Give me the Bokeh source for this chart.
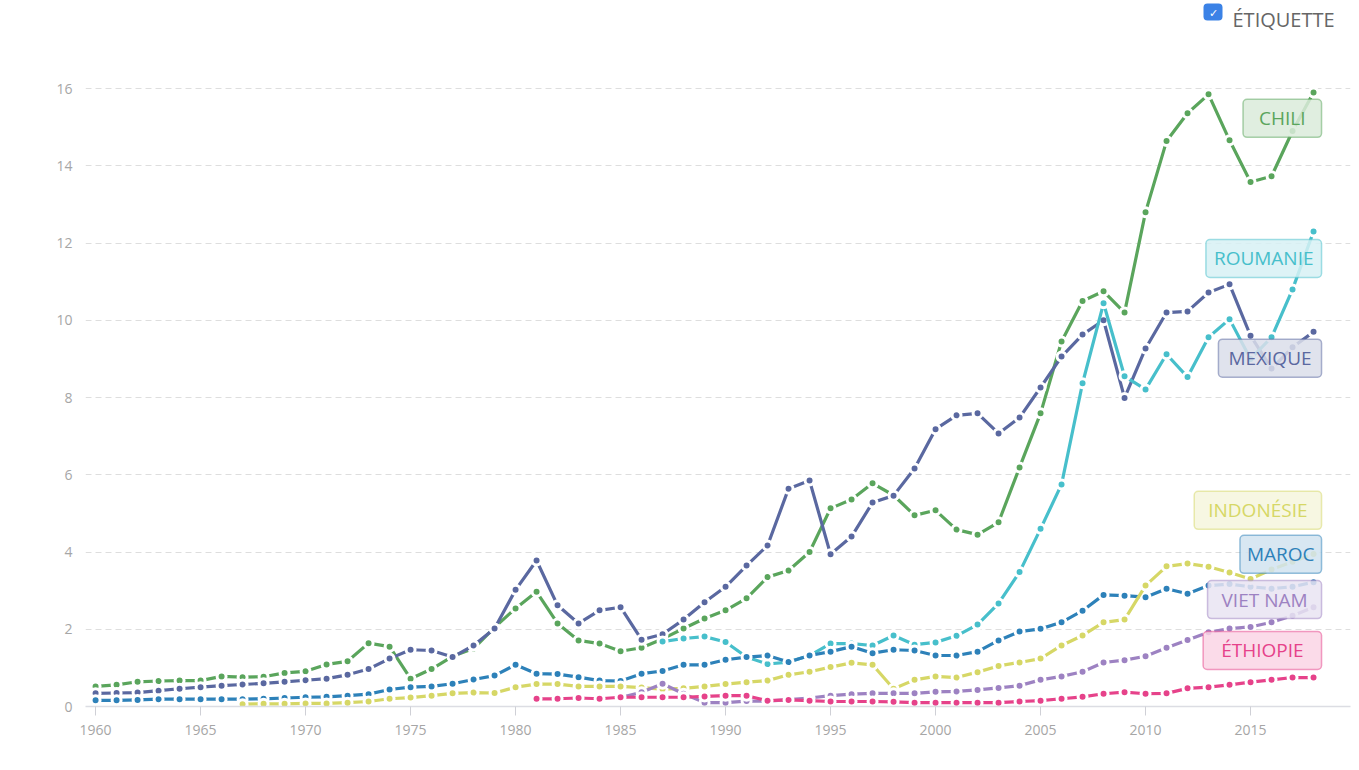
from bokeh.plotting import figure
from bokeh.models import Range1d, SingleIntervalTicker, FixedTicker, Label, ColumnDataSource
from bokeh.embed import file_html
from bokeh.resources import INLINE

FONT = "Open Sans"

# ---- data ----
countries = ["CHILI", "MEXIQUE", "ROUMANIE", "MAROC", "INDONÉSIE", "VIET NAM", "ÉTHIOPIE"]

chili_start = 1960
chili = [0.52, 0.56, 0.64, 0.66, 0.67, 0.67, 0.78, 0.76, 0.77, 0.87,
         0.91, 1.09, 1.17, 1.64, 1.55, 0.72, 0.97, 1.30, 1.50, 2.05,
         2.54, 2.97, 2.15, 1.71, 1.63, 1.43, 1.52, 1.75, 2.02, 2.28,
         2.49, 2.80, 3.35, 3.52, 4.00, 5.13, 5.36, 5.78, 5.47, 4.95,
         5.08, 4.58, 4.45, 4.77, 6.19, 7.59, 9.45, 10.50, 10.75, 10.20,
         12.80, 14.64, 15.36, 15.85, 14.66, 13.58, 13.73, 14.90, 15.90]

mexique_start = 1960
mexique = [0.34, 0.35, 0.36, 0.41, 0.46, 0.50, 0.54, 0.57, 0.60, 0.64,
           0.68, 0.72, 0.82, 0.97, 1.24, 1.47, 1.45, 1.28, 1.58, 2.02,
           3.02, 3.78, 2.62, 2.15, 2.49, 2.57, 1.73, 1.87, 2.25, 2.70,
           3.10, 3.65, 4.17, 5.64, 5.85, 3.94, 4.40, 5.28, 5.46, 6.16,
           7.18, 7.54, 7.59, 7.07, 7.48, 8.26, 9.06, 9.63, 10.00, 7.99,
           9.27, 10.20, 10.23, 10.72, 10.93, 9.60, 8.75, 9.30, 9.70]

roumanie_start = 1987
roumanie = [1.68, 1.76, 1.81,
            1.67, 1.28, 1.10, 1.15, 1.32, 1.63, 1.63, 1.58, 1.84, 1.60,
            1.66, 1.83, 2.12, 2.67, 3.48, 4.60, 5.75, 8.37, 10.44, 8.55,
            8.21, 9.12, 8.53, 9.56, 10.03, 9.00, 9.56, 10.80, 12.30]

maroc_start = 1960
maroc = [0.16, 0.16, 0.17, 0.19, 0.19, 0.19, 0.19, 0.19, 0.20, 0.22,
         0.24, 0.25, 0.28, 0.32, 0.44, 0.50, 0.52, 0.59, 0.70, 0.80,
         1.08, 0.85, 0.84, 0.76, 0.67, 0.66, 0.85, 0.92, 1.08, 1.08,
         1.21, 1.28, 1.32, 1.15, 1.32, 1.42, 1.55, 1.38, 1.47, 1.45,
         1.32, 1.32, 1.42, 1.71, 1.94, 2.01, 2.18, 2.48, 2.89, 2.87,
         2.83, 3.05, 2.92, 3.13, 3.17, 3.10, 3.05, 3.10, 3.22]

indonesie_start = 1967
indonesie = [0.06, 0.07, 0.07,
             0.08, 0.08, 0.10, 0.13, 0.20, 0.23, 0.28, 0.34, 0.36, 0.35,
             0.50, 0.58, 0.58, 0.52, 0.52, 0.52, 0.49, 0.45, 0.47, 0.52,
             0.58, 0.63, 0.67, 0.82, 0.90, 1.02, 1.13, 1.08, 0.46, 0.69,
             0.78, 0.75, 0.89, 1.05, 1.14, 1.24, 1.58, 1.84, 2.18, 2.25,
             3.13, 3.63, 3.70, 3.62, 3.47, 3.30, 3.55, 3.75, 3.95]

vietnam_start = 1985
vietnam = [0.23, 0.37, 0.59, 0.33, 0.10,
           0.10, 0.14, 0.14, 0.18, 0.22, 0.28, 0.32, 0.34, 0.34, 0.34,
           0.38, 0.39, 0.43, 0.48, 0.54, 0.69, 0.78, 0.90, 1.14, 1.20,
           1.30, 1.52, 1.72, 1.92, 2.02, 2.06, 2.18, 2.35, 2.57]

ethiopie_start = 1981
ethiopie = [0.20, 0.20, 0.22, 0.20, 0.24, 0.24, 0.24, 0.24, 0.26,
            0.28, 0.28, 0.15, 0.17, 0.15, 0.13, 0.13, 0.13, 0.12, 0.10,
            0.10, 0.10, 0.10, 0.10, 0.13, 0.15, 0.20, 0.25, 0.33, 0.37,
            0.33, 0.34, 0.47, 0.50, 0.56, 0.63, 0.69, 0.75, 0.75]

starts = [chili_start, mexique_start, roumanie_start, maroc_start,
          indonesie_start, vietnam_start, ethiopie_start]
values = [chili, mexique, roumanie, maroc, indonesie, vietnam, ethiopie]

colors = ["#5aa55c", "#5a68a0", "#47bfcb", "#2d81b9", "#d6d766", "#9d82c2", "#e6428a"]

# label boxes (same order as countries): vertical centre in value units, horizontal padding
label_y = [15.23, 9.02, 11.6, 3.94, 5.08, 2.77, 1.45]
label_pad = [16, 10, 8, 7, 14, 14, 18]

y_ticks = [0, 2, 4, 6, 8, 10, 12, 14, 16]
x_ticks_interval = 5


def tint(hex_col, f=0.22):
    r, g, b = (int(hex_col[i:i + 2], 16) for i in (1, 3, 5))
    mix = lambda c: int(round(255 - (255 - c) * f))
    return "#%02x%02x%02x" % (mix(r), mix(g), mix(b))


# ---- figure ----
p = figure(width=1359, height=770, output_backend="svg", toolbar_location=None,
           x_range=Range1d(1959.52, 2019.76), y_range=Range1d(0, 18.28),
           min_border_left=85, min_border_right=9, min_border_top=0, min_border_bottom=64)
p.outline_line_color = None
p.background_fill_color = "white"
p.border_fill_color = "white"

p.xgrid.grid_line_color = None
p.ygrid.grid_line_color = "#dedede"
p.ygrid.grid_line_dash = "6 4"
p.ygrid.grid_line_width = 1

p.xaxis.ticker = SingleIntervalTicker(interval=x_ticks_interval)
p.yaxis.ticker = FixedTicker(ticks=y_ticks)

for ax in (p.xaxis, p.yaxis):
    ax.major_label_text_font = FONT
    ax.major_label_text_font_size = "14px"
    ax.major_label_text_color = "#a6a6a6"
    ax.minor_tick_line_color = None

p.yaxis.axis_line_color = None
p.yaxis.major_tick_line_color = None
p.yaxis.major_tick_out = 0
p.yaxis.major_label_standoff = 13

p.xaxis.axis_line_color = "#dcdde3"
p.xaxis.axis_line_width = 1.5
p.xaxis.major_tick_line_color = "#cfd0d6"
p.xaxis.major_tick_in = 0
p.xaxis.major_tick_out = 9
p.xaxis.major_label_standoff = 9

for name, start, vals, col in zip(countries, starts, values, colors):
    yrs = list(range(start, start + len(vals)))
    src = ColumnDataSource(dict(x=yrs, y=vals))
    p.line("x", "y", source=src, line_color=col, line_width=3.2, line_join="round")
    p.scatter("x", "y", source=src, size=9, fill_color=col, line_color="white", line_width=3)

last_year = max(s + len(v) - 1 for s, v in zip(starts, values))
for name, col, ly, pad in zip(countries, colors, label_y, label_pad):
    p.add_layout(Label(x=last_year, y=ly, x_offset=8, text=name,
                       text_align="right", text_baseline="middle",
                       text_font=FONT, text_font_size="19px", text_color=col,
                       background_fill_color=tint(col), background_fill_alpha=0.85,
                       border_line_color=col, border_line_alpha=0.5, border_line_width=1.5,
                       padding=(pad, 6), border_radius=4))

# legend header at top right
p.add_layout(Label(x=1147, y=687, x_units="screen", y_units="screen", text="ÉTIQUETTE",
                   text_font=FONT, text_font_size="20px", text_color="#666666",
                   text_align="left", text_baseline="alphabetic"))
p.add_layout(Label(x=1127.5, y=686, x_units="screen", y_units="screen", text="✓",
                   text_font=FONT, text_font_size="11px", text_color="white",
                   text_align="center", text_baseline="bottom",
                   background_fill_color="#3b82e6", padding=(5, 1), border_radius=4))

open("out.html", "w").write(file_html(p, INLINE))
